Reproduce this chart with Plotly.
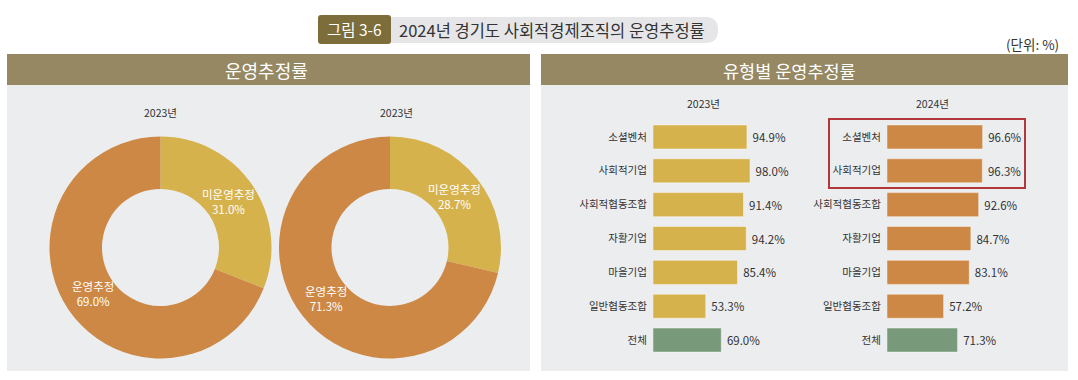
import math
import plotly.graph_objects as go

W, H = 1078, 380

# ---- data ----
categories = ['소셜벤처', '사회적기업', '사회적협동조합', '자활기업', '마을기업', '일반협동조합', '전체']
values_2023 = [94.9, 98.0, 91.4, 94.2, 85.4, 53.3, 69.0]
values_2024 = [96.6, 96.3, 92.6, 84.7, 83.1, 57.2, 71.3]
donut_labels = ['미운영추정', '운영추정']
donut_2023 = [31.0, 69.0]
donut_2024 = [28.7, 71.3]
donut_titles = ['2023년', '2023년']
bar_titles = ['2023년', '2024년']

# ---- styles ----
FONT = 'Noto Sans CJK KR'
YELLOW = '#D6B24D'
ORANGE = '#CD8845'
GREEN = '#789A7A'
PANEL = '#ECEDEF'
HEAD = '#958863'
TXT = '#333333'


def px(x):
    return x / W


def py(y):
    return 1 - y / H


fig = go.Figure()
ann = []

# donuts
donut_boxes = [(49.5, 271.5), (279, 501)]
for vals, dom in zip([donut_2023, donut_2024], donut_boxes):
    y0, y1 = 136.5, 358.5
    fig.add_trace(go.Pie(
        labels=donut_labels, values=vals, hole=0.527, sort=False,
        direction='clockwise', rotation=0,
        marker=dict(colors=[YELLOW, ORANGE], line=dict(width=0)),
        textinfo='none',
        domain=dict(x=[px(dom[0]), px(dom[1])], y=[py(y1), py(y0)]),
        showlegend=False, hoverinfo='skip'))
    # labels placed at the middle angle of each slice (derived from the values)
    cx = (dom[0] + dom[1]) / 2
    cy = (y0 + y1) / 2
    R = (dom[1] - dom[0]) / 2
    rl = 0.74 * R
    total = sum(vals)
    cum = 0
    for lab, v in zip(donut_labels, vals):
        mid = (cum + v / 2) / total * 2 * math.pi
        cum += v
        lx = cx + rl * math.sin(mid)
        ly = cy - rl * math.cos(mid)
        ann.append(dict(x=px(lx), y=py(ly), xref='paper', yref='paper',
                        text=f'{lab}<br>{v:.1f}%', showarrow=False,
                        xanchor='center', yanchor='middle',
                        font=dict(family=FONT, size=11.5, color='white')))

bar_colors_23 = [YELLOW] * 6 + [GREEN]
bar_colors_24 = [ORANGE] * 6 + [GREEN]

for i, (vals, cols) in enumerate([(values_2023, bar_colors_23), (values_2024, bar_colors_24)]):
    fig.add_trace(go.Bar(
        x=vals, y=categories, orientation='h',
        marker=dict(color=cols, line=dict(color='rgba(255,255,255,0.45)', width=1)),
        texttemplate=' %{x:.1f}%', textposition='outside', cliponaxis=False,
        textfont=dict(color=TXT, size=11.5, family=FONT),
        xaxis='x' if i == 0 else 'x2', yaxis='y' if i == 0 else 'y2',
        showlegend=False, hoverinfo='skip'))

ydom = [py(357), py(120)]
axis_common = dict(range=[0, 100], showgrid=False, zeroline=False, showticklabels=False,
                   showline=False, fixedrange=True)
yaxis_common = dict(autorange='reversed', showgrid=False, zeroline=False, showline=False,
                    ticks='outside', ticklen=3, tickcolor='rgba(0,0,0,0)', fixedrange=True,
                    tickfont=dict(color=TXT, size=10.5, family=FONT), domain=ydom)

fig.update_layout(
    width=W, height=H,
    margin=dict(l=0, r=0, t=0, b=0),
    paper_bgcolor='white', plot_bgcolor='rgba(0,0,0,0)',
    font=dict(family=FONT, color=TXT),
    bargap=0.29,
    xaxis=dict(domain=[px(653), px(752)], anchor='y', **axis_common),
    yaxis=dict(anchor='x', **yaxis_common),
    xaxis2=dict(domain=[px(887), px(986)], anchor='y2', **axis_common),
    yaxis2=dict(anchor='x2', **yaxis_common),
)

shapes = []
# panels
for x0, x1 in [(7, 530), (541, 1068)]:
    shapes.append(dict(type='rect', xref='paper', yref='paper', x0=px(x0), x1=px(x1),
                       y0=py(371), y1=py(85), fillcolor=PANEL, line=dict(width=0), layer='below'))
    shapes.append(dict(type='rect', xref='paper', yref='paper', x0=px(x0), x1=px(x1),
                       y0=py(85), y1=py(54), fillcolor=HEAD, line=dict(width=0), layer='below'))


def path_rounded(x0, y0, x1, y1, r):
    X = lambda v: px(v)
    Y = lambda v: py(v)
    return (f'M {X(x0)},{Y(y0)} L {X(x1 - r)},{Y(y0)} '
            f'Q {X(x1)},{Y(y0)} {X(x1)},{Y(y0 + r)} '
            f'L {X(x1)},{Y(y1 - r)} Q {X(x1)},{Y(y1)} {X(x1 - r)},{Y(y1)} '
            f'L {X(x0)},{Y(y1)} Z')


def path_box(x0, y0, x1, y1, r):
    X = lambda v: px(v)
    Y = lambda v: py(v)
    return (f'M {X(x0 + r)},{Y(y0)} L {X(x1 - r)},{Y(y0)} Q {X(x1)},{Y(y0)} {X(x1)},{Y(y0 + r)} '
            f'L {X(x1)},{Y(y1 - r)} Q {X(x1)},{Y(y1)} {X(x1 - r)},{Y(y1)} '
            f'L {X(x0 + r)},{Y(y1)} Q {X(x0)},{Y(y1)} {X(x0)},{Y(y1 - r)} '
            f'L {X(x0)},{Y(y0 + r)} Q {X(x0)},{Y(y0)} {X(x0 + r)},{Y(y0)} Z')


shapes.append(dict(type='path', xref='paper', yref='paper',
                   path=path_rounded(385, 17, 718, 43, 12.5),
                   fillcolor='#E6E6E8', line=dict(width=0), layer='below'))
shapes.append(dict(type='path', xref='paper', yref='paper',
                   path=path_box(318, 15, 391, 44, 3),
                   fillcolor='#7D6D3B', line=dict(width=0), layer='below'))

# red highlight box
shapes.append(dict(type='rect', xref='paper', yref='paper', x0=px(829), x1=px(1025),
                   y0=py(188), y1=py(119), fillcolor='rgba(0,0,0,0)',
                   line=dict(color='#B3373B', width=2)))
fig.update_layout(shapes=shapes)


def text(x, y, s, size, color=TXT, xanchor='center'):
    ann.append(dict(x=px(x), y=py(y), xref='paper', yref='paper', text=s, showarrow=False,
                    xanchor=xanchor, yanchor='middle',
                    font=dict(family=FONT, size=size, color=color)))


text(354.5, 29.5, '그림 3-6', 15.5, 'white')
text(397, 30, '2024년 경기도 사회적경제조직의 운영추정률', 16.5, '#333333', 'left')
text(1061, 44, '(단위: %)', 13.5, '#333333', 'right')
text(266, 70, '운영추정률', 18, 'white')
text(789, 70, '유형별 운영추정률', 17.5, 'white')
text(160, 113, donut_titles[0], 10.5)
text(396, 113, donut_titles[1], 10.5)
text(703, 104, bar_titles[0], 10.5)
text(932, 104, bar_titles[1], 10.5)
fig.update_layout(annotations=ann)

fig.write_html('out.html', config={'displayModeBar': False},
               post_script="document.body.style.margin='0px';document.body.style.overflow='hidden';")
